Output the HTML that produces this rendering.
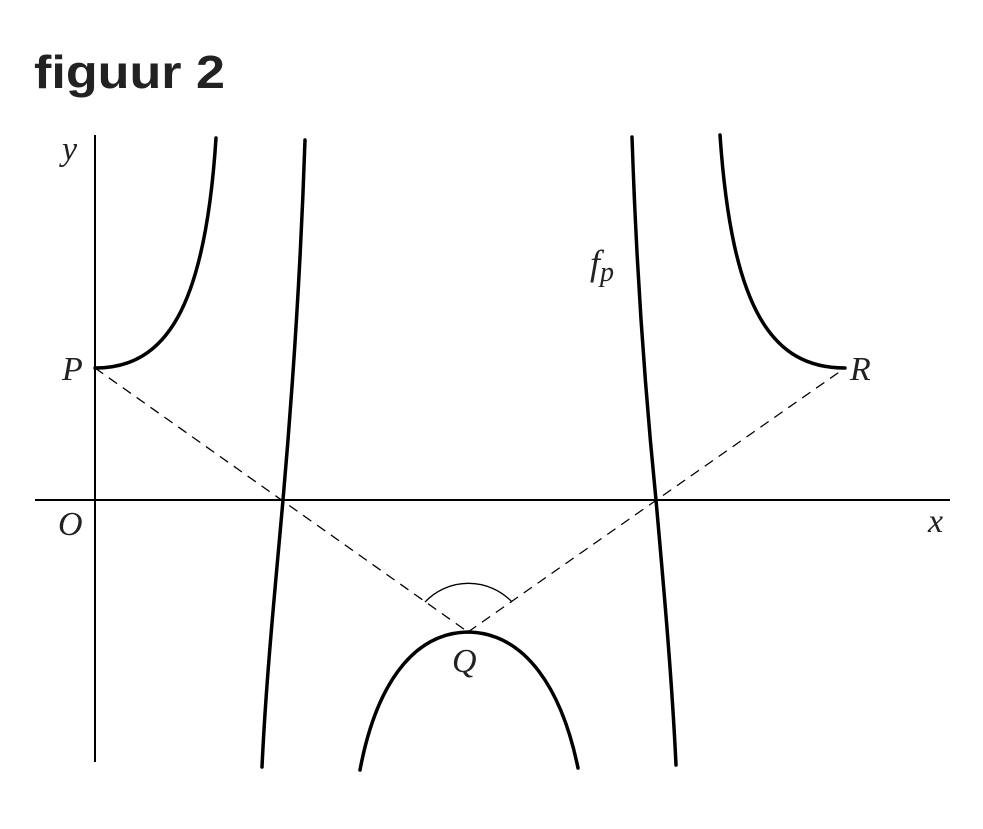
<!DOCTYPE html>
<html><head><meta charset="utf-8"><style>
html,body{margin:0;padding:0;background:#fff;}
svg{display:block;}
</style></head><body>
<svg width="983" height="829" viewBox="0 0 983 829" xmlns="http://www.w3.org/2000/svg">
<text x="34" y="88" font-family="Liberation Sans, sans-serif" font-weight="bold" font-size="46" textLength="191" lengthAdjust="spacingAndGlyphs" fill="#222">figuur 2</text>
<g stroke="#000" fill="none">
<line x1="95" y1="135" x2="95" y2="762" stroke-width="2"/>
<line x1="35" y1="500" x2="950" y2="500" stroke-width="2"/>
<g stroke-dasharray="10,7" stroke-width="1.3">
<line x1="95" y1="368" x2="468" y2="632"/>
<line x1="468" y1="632" x2="845" y2="368"/>
</g>
<path d="M425,602 A60,60 0 0 1 512,602" stroke-width="1.3"/>
<g stroke-width="3.5" stroke-linecap="round">
<path d="M95,368 C165,368 205,310 216,138"/>
<path d="M305,140 C300,290 290,420 283,500 C275,590 266,680 262,767"/>
<path d="M360,770 C375,690 410,633 468,632 C526,633 562,690 578,768"/>
<path d="M632,137 C637,290 648,420 656,500 C664,590 672,680 676,765"/>
<path d="M720,135 C732,310 772,368 845,368"/>
</g>
</g>
<g font-family="Liberation Serif, serif" font-style="italic" font-size="34" fill="#222">
<text x="62" y="160">y</text>
<text x="62" y="380">P</text>
<text x="850" y="380">R</text>
<text x="58" y="535">O</text>
<text x="928" y="532">x</text>
<text x="452" y="672">Q</text>
<text x="590" y="275" font-size="36">f<tspan font-size="28" dy="6">p</tspan></text>
</g>
</svg>
</body></html>
